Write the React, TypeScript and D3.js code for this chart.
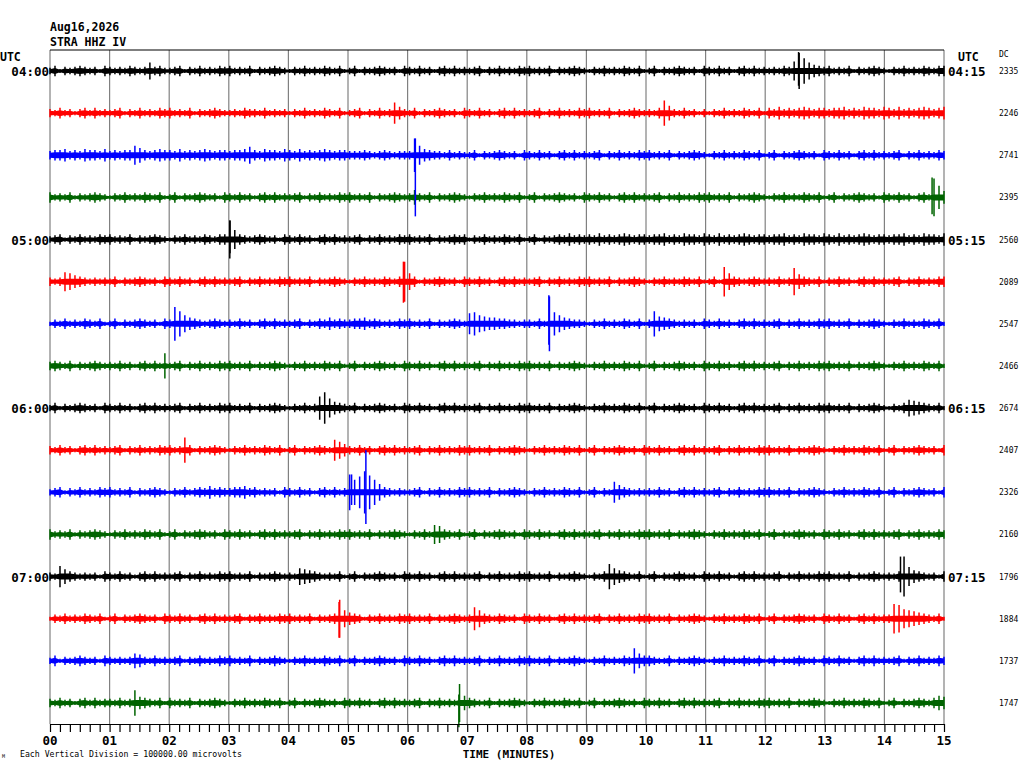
import React, { useEffect, useRef } from "react";
import * as d3 from "d3";

// helicorder header / labels
const stationLines = ["Aug16,2026", "STRA HHZ IV"];
const leftHourLabels = ["04:00", "05:00", "06:00", "07:00"];
const rightHourLabels = ["04:15", "05:15", "06:15", "07:15"];
const traceColors = ["#000000", "#ff0000", "#0000ff", "#006400"];
const dcOffsets = [2335, 2246, 2741, 2395, 2560, 2089, 2547, 2466, 2674, 2407, 2326, 2160, 1796, 1884, 1737, 1747];
const minuteLabels = ["00", "01", "02", "03", "04", "05", "06", "07", "08", "09", "10", "11", "12", "13", "14", "15"];
const microvoltsPerDivision = 100000;
const envelopeUnit = 2500; // microvolts per envelope character (base 36)

// peak envelope per trace, one char per 5 s, one group per minute
const traceEnvelopes = [
  "352434543425 434354348453 345243534354 534352434543 243534354352 352434543425 435342453534 345243534354 534352434543 243534354352 352434543425 435342453534 343549hc8654 534352434543 243534354355",
  "435342453534 345243534354 534352434543 343544353434 243534354352 345243534a64 352434543425 435342453534 345243534354 534352434543 435c74353424 243534354352 546454565455 455645465546 546454565456",
  "455645465546 454559754565 546454565455 455685465546 546454565455 444543454344 4g9654435343 352434543425 435342453534 345243534354 534352434543 243534354352 352434543425 435342453534 345243534354",
  "534352434543 243534354352 352434543425 435342453534 345243534354 534352434543 474352434543 243534354352 352434543425 435342453534 345243534354 534352434543 243534354352 352434543425 435342453ib6",
  "345243534354 534352434543 243534354355 i95434543425 435342453534 345243534354 534352434545 243534354352 352434546454 546454565455 455645465546 546454565455 455645465546 546454565455 455645465546",
  "434986543434 352434543425 435342453534 345243534354 534352434543 24353435435j 852434543425 435342453534 345243534354 534352434543 243534354352 352e85434543 43534d754352 435342453534 345243534355",
  "243534354352 352434543425 4gc865434543 435342453534 345243546454 455645434354 534352434543 ab8766554434 4353qb865443 243534354352 4c7654343425 435342453534 345243534354 534352434543 243534354352",
  "454352434543 43534245353c 345243534354 534352434543 243534354352 352434543425 435342453534 345243534354 534352434543 243534354352 352434543425 435342453534 345243534354 534352434543 243534354352",
  "352434543425 435342453534 345243534354 534352434543 243534bf9654 352434543425 435342453534 345243534354 534352434543 243534354352 352434543425 435342453534 345243534354 534352434543 243587654352",
  "435342453534 345243534354 534c52434543 243534354352 352434543a86 435342453534 345243534354 534352434543 243534354352 352434543425 435342453534 345243534354 534352434543 243534354352 352434543425",
  "345243534354 534352434543 243534546454 455645343425 435342453534 hcfkgc854343 345243534354 534352434543 243534354352 35243a754343 435342453534 345243534354 534352434543 243534354352 352434543425",
  "534352434543 243534354352 352434543425 435342453534 345243534354 534352434543 243539854352 352434543425 435342453534 345243534354 534352434543 243534354352 352434543425 435342453534 345243534354",
  "43a754343425 435342453534 345243534354 534352434543 438765434352 352434543425 435342453534 345243534354 534352434543 2435c8654352 352434543425 435342453534 345243534354 534352434543 435j96543425",
  "243534354352 352434543425 435342453534 345243534354 5343524345i8 654243534354 534352434543 4b8543543425 435342453534 345243534354 534352434543 243534354352 352434543425 435342453534 4ed987654352",
  "352434543425 434347643534 345243534354 534352434543 243534354352 352434543425 435342453534 345243534354 534352434543 243534354c75 543352434543 243534354352 352434543425 435342453534 345243534354",
  "435342453534 43534c654352 534352434543 243534354352 352434543425 435342453534 3452435343i7 543352434543 243534354352 352434543425 435342453534 345243534354 534352434543 243534354352 352434543576",
];

// largest single swings: trace, minute, up, down (envelope units)
const spikeTrace = [2, 6, 10, 10, 15, 4, 5, 0, 12, 13, 3];
const spikeMinute = [6.13, 8.37, 5.3, 5.06, 6.86, 3.02, 5.93, 12.56, 14.27, 4.85, 14.8];
const spikeUp = [16, 27, 40, 17, 8, 18, 19, 18, 19, 16, 19];
const spikeDown = [58, 20, 30, 12, 23, 13, 20, 14, 15, 18, 16];

const mono = "'DejaVu Sans Mono', 'Liberation Mono', monospace";

const App: React.FC = () => {
  const ref = useRef<SVGSVGElement>(null);

  useEffect(() => {
    if (!ref.current) return;
    const svg = d3.select(ref.current);
    svg.selectAll("*").remove();

    const top = 50;
    const bottom = 724;
    const x = d3.scaleLinear().domain([0, 15]).range([50, 944]);
    const row = d3
      .scalePoint<number>()
      .domain(traceEnvelopes.map((_, i) => i))
      .range([71, 703]);
    const amp = d3
      .scaleLinear()
      .domain([0, microvoltsPerDivision])
      .range([0, row.step()]);
    // dense core of the noise band, capped so events stay as strokes
    const core = d3
      .scaleLinear()
      .domain([0, 5 * envelopeUnit])
      .range([0, 3])
      .clamp(true);

    // minute grid
    svg
      .append("g")
      .selectAll("line")
      .data(minuteLabels)
      .join("line")
      .attr("x1", (_, i) => x(i))
      .attr("x2", (_, i) => x(i))
      .attr("y1", top)
      .attr("y2", bottom)
      .attr("stroke", "#808080")
      .attr("stroke-width", 1.2);

    svg
      .append("line")
      .attr("x1", x(0))
      .attr("x2", x(15))
      .attr("y1", top)
      .attr("y2", top)
      .attr("stroke", "#000")
      .attr("stroke-width", 1.2);

    // traces
    const traces = svg.append("g");
    traceEnvelopes.forEach((s, t) => {
      const vals = s
        .replace(/ /g, "")
        .split("")
        .map((c) => parseInt(c, 36) * envelopeUnit);
      const n = vals.length;
      const base = row(t) as number;
      const color = traceColors[t % 4];
      const tx = (i: number) => x((i * 15) / (n - 1));

      const area = d3
        .area<number>()
        .x((_, i) => tx(i))
        .y0((d) => base + core(d))
        .y1((d) => base - core(d));

      traces
        .append("path")
        .attr("d", area(vals))
        .attr("fill", color);

      // peak swing of each 5 s bin as a vertical stroke
      const p = d3.path();
      vals.forEach((d, i) => {
        p.moveTo(tx(i), base - amp(d));
        p.lineTo(tx(i), base + amp(d));
      });
      traces
        .append("path")
        .attr("d", p.toString())
        .attr("fill", "none")
        .attr("stroke", color)
        .attr("stroke-width", 1.5);
    });

    traces
      .selectAll("line.spike")
      .data(spikeTrace)
      .join("line")
      .attr("class", "spike")
      .attr("x1", (_, i) => x(spikeMinute[i]))
      .attr("x2", (_, i) => x(spikeMinute[i]))
      .attr("y1", (t, i) => (row(t) as number) - amp(spikeUp[i] * envelopeUnit))
      .attr("y2", (t, i) => (row(t) as number) + amp(spikeDown[i] * envelopeUnit))
      .attr("stroke", (t) => traceColors[t % 4])
      .attr("stroke-width", 1.5);

    // bottom time axis, a tick every 10 s
    const minor = d3.range(0, 91).map((i) => i / 6);
    const axis = svg.append("g").attr("transform", `translate(0,${bottom})`);
    axis.call(
      d3
        .axisBottom(x)
        .tickValues(minor)
        .tickSize(8)
        .tickSizeOuter(0)
        .tickFormat(() => "")
    );
    axis.selectAll("path, line").attr("stroke", "#000").attr("stroke-width", 1.2);

    svg
      .append("g")
      .selectAll("text")
      .data(minuteLabels)
      .join("text")
      .attr("x", (_, i) => x(i))
      .attr("y", 745)
      .attr("text-anchor", "middle")
      .attr("font-family", mono)
      .attr("font-weight", "bold")
      .attr("font-size", 12.5)
      .text((d) => d);

    const text = (tx: number, ty: number, s: string, size: number, anchor = "start", bold = true) =>
      svg
        .append("text")
        .attr("x", tx)
        .attr("y", ty)
        .attr("text-anchor", anchor)
        .attr("font-family", mono)
        .attr("font-weight", bold ? "bold" : "normal")
        .attr("font-size", size)
        .text(s);

    text(509, 758, "TIME (MINUTES)", 11, "middle");
    text(20, 757, "Each Vertical Division = 100000.00 microvolts", 8.2, "start", false);
    text(2, 758, "M", 5, "start", false);

    stationLines.forEach((s, i) => text(50, 31 + i * 15, s, 11.5));
    text(0, 61, "UTC", 11.5);
    text(958, 61, "UTC", 11.5);
    text(999, 57, "DC", 8, "start", false);

    leftHourLabels.forEach((s, i) => text(49, (row(i * 4) as number) + 5, s, 12.5, "end"));
    rightHourLabels.forEach((s, i) => text(948, (row(i * 4) as number) + 5, s, 12.5));

    svg
      .append("g")
      .selectAll("text")
      .data(dcOffsets)
      .join("text")
      .attr("x", 999)
      .attr("y", (_, i) => (row(i) as number) + 3)
      .attr("font-family", mono)
      .attr("font-size", 8)
      .text((d) => d);
  }, []);

  return (
    <svg
      ref={ref}
      width={1024}
      height={768}
      style={{ position: "absolute", left: 0, top: 0, background: "#fff" }}
    />
  );
};

export default App;
